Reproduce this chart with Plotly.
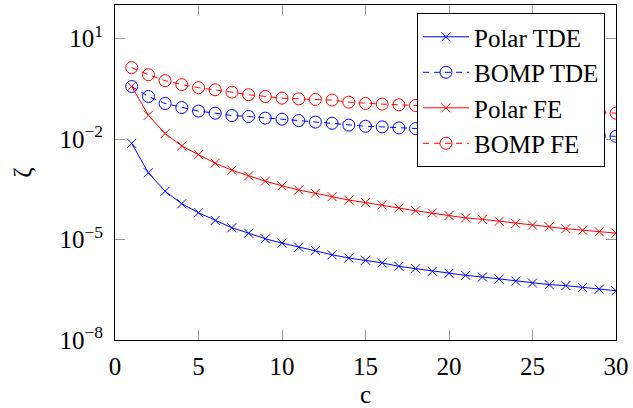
import plotly.graph_objects as go

c_values = list(range(1, 31))

polar_tde = [7.4e-3, 9.8e-4, 2.75e-4, 1.17e-4, 6.3e-5, 3.7e-5, 2.24e-5, 1.55e-5, 1.05e-5, 7.8e-6,
             5.9e-6, 4.7e-6, 3.5e-6, 2.8e-6, 2.4e-6, 2.0e-6, 1.58e-6, 1.35e-6, 1.12e-6, 9.8e-7,
             8.5e-7, 7.6e-7, 6.6e-7, 5.75e-7, 5.0e-7, 4.5e-7, 4.2e-7, 3.7e-7, 3.3e-7, 2.95e-7]

bomp_tde = [0.37, 0.186, 0.115, 0.087, 0.068, 0.059, 0.050, 0.047, 0.042, 0.039,
            0.0355, 0.032, 0.0295, 0.026, 0.024, 0.023, 0.0214, 0.0204, 0.0195, 0.0186,
            0.0178, 0.017, 0.0162, 0.0155, 0.0148, 0.0141, 0.0135, 0.0132, 0.0126, 0.012]

polar_fe = [0.37, 0.051, 0.0145, 6.2e-3, 3.4e-3, 1.9e-3, 1.17e-3, 7.9e-4, 5.5e-4, 4.0e-4,
            3.0e-4, 2.4e-4, 1.9e-4, 1.5e-4, 1.26e-4, 1.07e-4, 8.7e-5, 7.2e-5, 6.2e-5, 5.2e-5,
            4.4e-5, 4.0e-5, 3.5e-5, 3.0e-5, 2.7e-5, 2.4e-5, 2.1e-5, 1.9e-5, 1.7e-5, 1.55e-5]

bomp_fe = [1.35, 0.83, 0.55, 0.42, 0.34, 0.295, 0.25, 0.21, 0.186, 0.166,
           0.158, 0.151, 0.145, 0.126, 0.115, 0.11, 0.105, 0.1, 0.095, 0.091,
           0.087, 0.083, 0.079, 0.076, 0.072, 0.069, 0.066, 0.063, 0.062, 0.059]

x_ticks = [0, 5, 10, 15, 20, 25, 30]
y_tickvals = [1e1, 1e-2, 1e-5, 1e-8]
y_ticktext = ["10<sup>1</sup>", "10<sup>−2</sup>", "10<sup>−5</sup>", "10<sup>−8</sup>"]

FONT = "Liberation Serif, serif"
BLUE = "rgb(0,0,255)"
RED = "rgb(255,0,0)"

fig = go.Figure()
fig.add_trace(go.Scatter(x=c_values, y=polar_tde, name="Polar TDE", mode="lines+markers",
                         line=dict(color=BLUE, width=1),
                         marker=dict(symbol="x-thin-open", size=9, color=BLUE,
                                     line=dict(color=BLUE, width=1))))
fig.add_trace(go.Scatter(x=c_values, y=bomp_tde, name="BOMP TDE", mode="lines+markers",
                         line=dict(color=BLUE, width=1, dash="6px,5px"),
                         marker=dict(symbol="circle-open", size=12, color=BLUE,
                                     line=dict(color=BLUE, width=1))))
fig.add_trace(go.Scatter(x=c_values, y=polar_fe, name="Polar FE", mode="lines+markers",
                         line=dict(color=RED, width=1),
                         marker=dict(symbol="x-thin-open", size=9, color=RED,
                                     line=dict(color=RED, width=1))))
fig.add_trace(go.Scatter(x=c_values, y=bomp_fe, name="BOMP FE", mode="lines+markers",
                         line=dict(color=RED, width=1, dash="6px,5px"),
                         marker=dict(symbol="circle-open", size=12, color=RED,
                                     line=dict(color=RED, width=1))))

fig.update_layout(
    width=633, height=408,
    margin=dict(l=115, r=13, t=4, b=64),
    paper_bgcolor="white", plot_bgcolor="white",
    font=dict(family=FONT, size=25, color="black"),
    showlegend=True,
    legend=dict(x=0.978, y=0.976, xanchor="right", yanchor="top",
                bgcolor="white", bordercolor="black", borderwidth=1,
                font=dict(family=FONT, size=25), tracegroupgap=0, itemwidth=46),
    xaxis=dict(range=[0, 30], tickvals=x_ticks, ticks="inside", ticklen=10,
               tickcolor="#999", tickwidth=1, showgrid=False, zeroline=False,
               showline=True, linecolor="black", linewidth=1, mirror="ticks",
               tickfont=dict(family=FONT, size=25), ticklabelstandoff=4,
               title=dict(text="c", font=dict(family=FONT, size=25), standoff=6)),
    yaxis=dict(type="log", range=[-8, 2], tickvals=y_tickvals, ticktext=y_ticktext,
               ticks="inside", ticklen=10, tickcolor="#999", tickwidth=1,
               showgrid=False, zeroline=False, showline=True, linecolor="black",
               linewidth=1, mirror="ticks",
               tickfont=dict(family=FONT, size=25), ticklabelstandoff=6,
               title=dict(text="ζ", font=dict(family=FONT, size=25), standoff=20)),
)

fig.write_html("out.html", config={"displayModeBar": False},
               post_script="document.body.style.margin='0';document.body.style.padding='0';")
